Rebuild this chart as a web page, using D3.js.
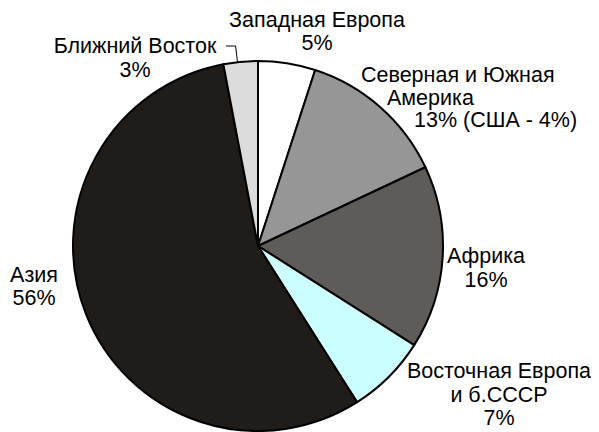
<!DOCTYPE html>
<html lang="ru">
<head>
  <meta charset="utf-8">
  <script src="https://d3js.org/d3.v7.min.js"></script>
  <style>
    body { margin: 0; background: #fff; }
    text { font-family: "Liberation Sans", Arial, sans-serif; font-size: 21.5px; fill: #000; }
  </style>
</head>
<body>

<svg width="599" height="432"></svg>

<script>
// regions, clockwise from the top
var regions = ["Западная Европа", "Северная и Южная Америка", "Африка",
               "Восточная Европа и б.СССР", "Азия", "Ближний Восток"];
var shares = [5, 13, 16, 7, 56, 3];
var colors = ["#ffffff", "#969696", "#5f5b59", "#ccffff", "#201c1a", "#dcdcdc"];
var labelLines = [
  ["Западная Европа", "5%"],
  ["Северная и Южная", "Америка", "13% (США - 4%)"],
  ["Африка", "16%"],
  ["Восточная Европа", "и б.СССР", "7%"],
  ["Азия", "56%"],
  ["Ближний Восток", "3%"]
];

var svg = d3.select("svg"),
    cx = 258, cy = 246, r = 185;

var data = regions.map((d, i) => ({name: d, value: shares[i], color: colors[i], lines: labelLines[i]}));

var pie = d3.pie().sort(null).value(d => d.value);
var arc = d3.arc().innerRadius(0).outerRadius(r);

var g = svg.append("g").attr("transform", "translate(" + cx + "," + cy + ")");

g.selectAll("path")
    .data(pie(data))
    .enter().append("path")
    .attr("d", arc)
    .attr("fill", d => d.data.color)
    .attr("stroke", "#000")
    .attr("stroke-width", 2)
    .attr("stroke-linejoin", "round");

// hand placed labels (anchor, x, first baseline, line step, per-line x shifts)
var labelPos = [
  {anchor: "middle", x: 317, y: 27, dy: 23},
  {anchor: "start", x: 361, y: 82, dy: 22.5, xs: [0, 26, 53]},
  {anchor: "middle", x: 486, y: 263, dy: 23.5},
  {anchor: "middle", x: 499, y: 378, dy: 23.5},
  {anchor: "middle", x: 34, y: 282, dy: 23},
  {anchor: "middle", x: 135, y: 53, dy: 23.5}
];

data.forEach(function(d, i) {
  var p = labelPos[i];
  var t = svg.append("text").attr("text-anchor", p.anchor);
  d.lines.forEach(function(line, j) {
    t.append("tspan")
      .attr("x", p.x + (p.xs ? p.xs[j] : 0))
      .attr("y", p.y + j * p.dy)
      .text(line);
  });
});

// leader line for the small Middle East slice
var me = pie(data)[5];
var mid = (me.startAngle + me.endAngle) / 2;
var ex = cx + r * Math.sin(mid), ey = cy - r * Math.cos(mid);
svg.append("path")
    .attr("d", "M" + (ex - 3) + "," + (ey + 1) + "L" + (ex - 5) + "," + 46 + "L" + 226 + "," + 46)
    .attr("fill", "none")
    .attr("stroke", "#000")
    .attr("stroke-width", 1);
</script>
</body>
</html>
